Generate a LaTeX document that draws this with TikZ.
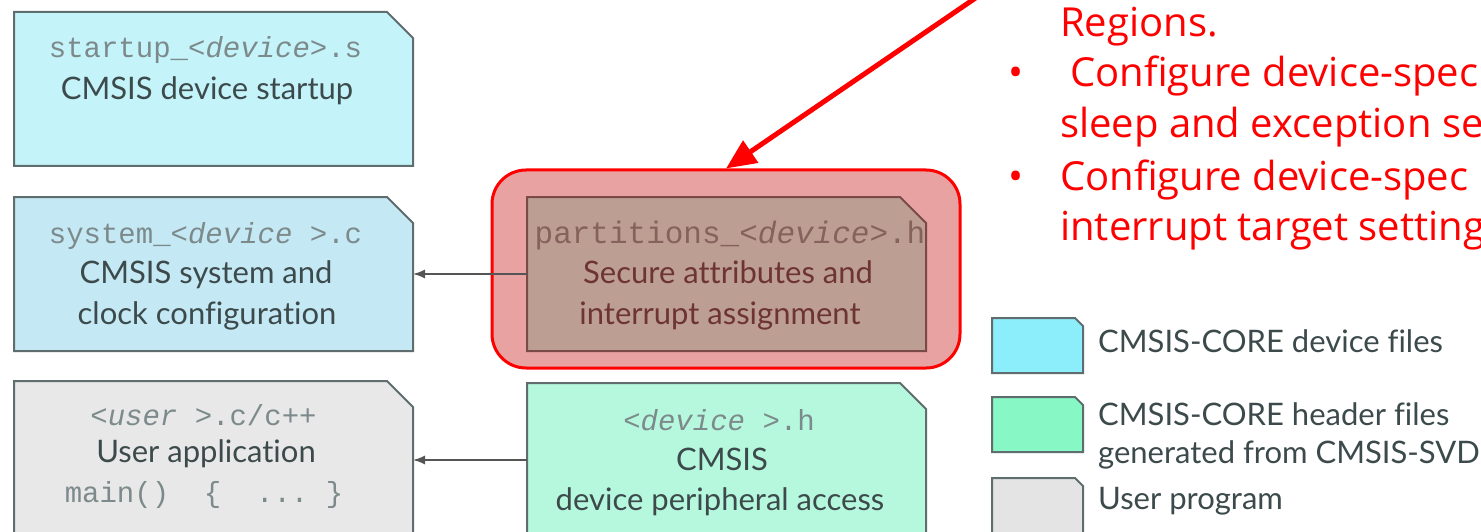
\documentclass[tikz,border=0pt]{standalone}
\usepackage{fontspec}
\setmainfont{Lato}[Ligatures=NoCommon]
\setmonofont{Liberation Mono}
\newfontfamily\notefont{Open Sans}
\usetikzlibrary{arrows.meta}

\definecolor{startfill}{HTML}{C4F4FA}
\definecolor{sysfill}{HTML}{C4E9F5}
\definecolor{userfill}{HTML}{E8E8E8}
\definecolor{hdrfill}{HTML}{B6F8DE}
\definecolor{partfill}{HTML}{BC9F92}
\definecolor{partedge}{HTML}{7A4A48}
\definecolor{partink}{HTML}{6E3434}
\definecolor{partmono}{HTML}{85625C}
\definecolor{hilitefill}{HTML}{E8A2A2}
\definecolor{edgegray}{HTML}{5F6D6E}
\definecolor{monogray}{HTML}{7D8A8B}
\definecolor{descgray}{HTML}{3D4A4B}
\definecolor{keycyan}{HTML}{8CEEFA}
\definecolor{keygreen}{HTML}{88F7C6}
\definecolor{keygray}{HTML}{E4E4E4}
\definecolor{linkgray}{HTML}{555555}

\tikzset{
  filebox/.style={rectangle, minimum width=399pt, minimum height=154pt, inner sep=0pt, outer sep=0pt},
  keybox/.style={rectangle, minimum width=91pt, minimum height=55pt, inner sep=0pt, outer sep=0pt},
  fname/.style={font=\fontsize{29}{34}\selectfont\ttfamily, text=monogray, anchor=base, inner sep=0pt},
  fdesc/.style={font=\fontsize{31}{36}\selectfont, text=descgray, anchor=base, inner sep=0pt},
  keytext/.style={font=\fontsize{31}{36}\selectfont, text=descgray, anchor=base west, inner sep=0pt},
  note/.style={font=\fontsize{40}{50}\selectfont\notefont, text=red, anchor=base west, inner sep=0pt},
  link/.style={draw=linkgray, line width=1.5pt, -{Latex[length=12pt,width=9pt]}}
}

\begin{document}
\begin{tikzpicture}[x=1pt, y=-1pt]
  \useasboundingbox[fill=white] (0,0) rectangle (1481,532);

  \node[draw=red, line width=3pt, fill=hilitefill, rounded corners=34pt,
        minimum width=468pt, minimum height=198pt] (hilite) at (726,269) {};

  \node[filebox] (startup) at (213.5,89) {};
  \node[filebox] (system) at (213.5,274) {};
  \node[filebox] (user) at (213.5,458) {};
  \node[filebox] (partitions) at (726.5,274) {};
  \node[filebox] (devh) at (726.5,460) {};
  \node[keybox] (keydevice) at (1037.5,345.5) {};
  \node[keybox] (keyheader) at (1037.5,424.5) {};
  \node[keybox] (keyuser) at (1037.5,505.5) {};

  % folded corner outlines
  \foreach \b/\c/\e/\f in {startup/startfill/edgegray/26, system/sysfill/edgegray/26,
      user/userfill/edgegray/26, partitions/partfill/partedge/26, devh/hdrfill/edgegray/26,
      keydevice/keycyan/edgegray/8, keyheader/keygreen/edgegray/8, keyuser/keygray/edgegray/8}
    \filldraw[fill=\c, draw=\e, line width=2pt] (\b.south west) -- (\b.north west)
      -- ([xshift=-\f pt]\b.north east) -- ([yshift=-\f pt]\b.north east) -- (\b.south east) -- cycle;

  % left column
  \node[fname] (startupname) at (205.5,58) {startup\_<\textit{device}>.s};
  \node[fdesc] (startupdesc) at (207,100) {CMSIS device startup};

  \node[fname] (systemname) at (205.5,243) {system\_<\textit{device} >.c};
  \node[fdesc] (systemdesc) at (206,283) {CMSIS system and};
  \node[fdesc] (systemdesc2) at (207,324) {clock configuration};

  \node[fname] (username) at (203.5,425) {<\textit{user} >.c/c++};
  \node[fdesc] (userdesc) at (206,462) {User application};
  \node[fname] (usermain) at (204,502) {main()\ \ \{\ \ ...\ \}};

  % right column
  \node[fname, text=partmono, font=\fontsize{31}{36}\selectfont\ttfamily] (partname) at (730,243) {partitions\_<\textit{device}>.h};
  \node[fdesc, text=partink] (partdesc) at (728,283) {Secure attributes and};
  \node[fdesc, text=partink] (partdesc2) at (720,324) {interrupt assignment};

  \node[fname] (devhname) at (719,430) {<\textit{device} >.h};
  \node[fdesc] (devhdesc) at (722,470) {CMSIS};
  \node[fdesc] (devhdesc2) at (720,510) {device peripheral access};

  \draw[link] (partitions.west) -- (system.east);
  \draw[link] (devh.west) -- (user.east |- devh.west);

  % red note
  \coordinate (notetail) at (977,-3);
  \draw[red, line width=5pt, -{Triangle[length=30pt,width=26pt]}] (notetail) -- (hilite.north);
  \node[note] (noteregions) at (1060,37) {Regions.};
  \node[note] (bulletone) at (1008,87) {•};
  \node[note] (noteone) at (1070,87) {Configure device-spec};
  \node[note] (noteonecont) at (1060,138) {sleep and exception se};
  \node[note] (bullettwo) at (1008,190) {•};
  \node[note] (notetwo) at (1060,190) {Configure device-spec};
  \node[note] (notetwocont) at (1060,240) {interrupt target setting};

  % legend
  \node[keytext] (keydevicetext) at (1098,352) {CMSIS-CORE device files};
  \node[keytext] (keyheadertext) at (1098,425) {CMSIS-CORE header files};
  \node[keytext] (keyheadertext2) at (1098,463) {generated from CMSIS-SVD};
  \node[keytext] (keyusertext) at (1098,509) {User program};
\end{tikzpicture}
\end{document}
